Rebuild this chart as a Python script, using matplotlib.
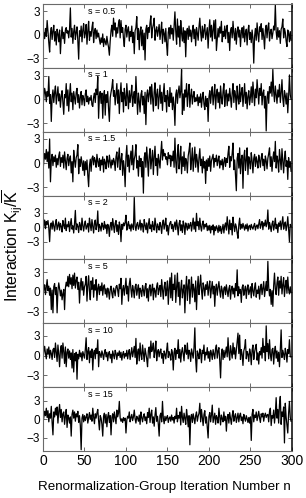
import numpy as np
import matplotlib
matplotlib.use("Agg")
import matplotlib.pyplot as plt

plt.rcParams['font.family'] = ['Liberation Sans', 'DejaVu Sans']
plt.rcParams['axes.unicode_minus'] = True
plt.rcParams['mathtext.fontset'] = 'custom'
plt.rcParams['mathtext.rm'] = 'Liberation Sans'
plt.rcParams['mathtext.it'] = 'Liberation Sans:italic'
plt.rcParams['mathtext.bf'] = 'Liberation Sans:bold'

s_labels = ["s = 0.5", "s = 1", "s = 1.5", "s = 2", "s = 5", "s = 10", "s = 15"]

k_s05 = [
-0.7, 0.3, -0.5, 0.8, -0.2, 1.8, 0.4, -1.0, -2.2, 0.2,
0.9, -0.6, 0.5, 1.2, -0.8, 0.4, -1.3, 0.7, 0.1, -0.9,
0.6, -2.4, -0.3, 1.0, -0.5, 0.3, -1.1, 0.6, 0.9, 0.2,
0.5, -0.4, 0.7, 3.4, -0.3, 0.8, -1.1, 0.4, 1.2, -0.6,
0.3, 1.0, -0.8, -3.1, 0.5, -0.2, 1.1, -0.9, 0.6, 1.4,
-0.4, 0.2, 1.3, -1.2, 0.5, 1.7, -0.7, 0.4, -0.2, 0.9,
1.6, -1.0, 0.3, 0.8, -0.5, 0.6, -0.3, 0.2, -0.6, -1.2,
-0.4, -1.0, 0.1, -1.5, -0.5, -0.9, -1.3, -0.2, -1.0, -1.6,
-2.6, -0.8, 0.5, 1.2, -0.2, 2.1, 0.6, 1.5, -0.3, 0.9,
0.2, 1.4, 1.9, -0.4, 1.8, 0.3, 0.9, -0.5, -1.5, 0.7,
1.2, -0.3, 0.6, 1.0, -0.8, 0.4, -0.2, 1.1, -1.0, 0.3,
-2.4, 0.5, 0.9, 2.3, -0.6, 0.8, -1.9, 0.4, 1.0, -1.4,
0.6, -1.9, 0.2, -3.2, 0.7, 1.2, -0.5, 0.9, 0.3, 1.5,
2.4, -0.4, 0.8, 1.3, 2.1, -0.7, 0.5, 1.0, -0.2, 0.6,
1.3, -0.6, 0.4, 1.6, -1.1, 0.7, 0.2, -0.9, 0.8, -1.3,
-2.6, 0.3, 0.9, -0.5, 1.2, 0.1, 0.8, -0.7, 1.0, 2.9,
0.4, -1.2, 2.0, -0.3, 1.1, -1.5, 1.8, 0.2, -0.8, 0.9,
-1.0, 0.5, -2.8, 0.3, 0.8, -0.6, 1.1, -0.2, 0.6, -0.9,
0.4, 1.2, -0.5, 0.7, -1.4, 0.9, 0.2, -0.7, 1.0, 2.1,
0.3, -0.8, 1.1, -0.4, 0.6, 1.3, -0.6, 0.2, 0.9, -1.7,
0.5, 1.9, -0.3, 1.2, -0.8, 0.6, 1.8, -0.5, 1.9, -2.0,
-0.6, 0.8, -0.3, 1.0, 0.2, 1.7, -0.9, 0.4, -0.2, 1.1,
-0.5, 0.7, 1.2, -1.0, 0.3, -2.0, 0.5, 0.9, -0.4, 1.7,
0.2, -0.7, 0.8, -1.2, 0.4, 1.0, -0.3, 0.6, -1.5, 0.3,
0.9, -0.4, 1.1, -0.9, 0.2, 0.7, -1.3, 0.5, 1.2, -0.6,
0.3, -1.0, 0.6, -0.5, -3.6, -0.2, 0.8, -0.7, 1.5, 0.1,
-0.9, 1.0, 0.4, 1.4, -0.6, 0.8, -0.2, -1.8, 0.6, 1.2,
-0.4, 0.9, 1.5, -0.8, 0.3, 0.7, -0.5, 0.2, 1.1, 0.6,
3.8, 0.4, -0.6, 0.9, -0.3, 0.5, -1.1, 0.7, 1.0, 2.0,
-0.4, 0.8, 0.3, -0.8, -1.5, 0.6, 0.2, -0.9, 0.4, -0.7,
]

k_s1 = [
-0.9, 0.2, 1.4, 0.8, -0.3, 1.0, 0.4, 2.9, -0.5, 0.6,
-2.8, 0.3, 1.2, -0.4, 0.9, 1.7, -0.6, 0.5, 1.6, -0.2,
0.7, -1.0, 0.4, 1.1, -0.5, -1.9, 0.6, 0.2, 2.0, -0.8,
1.2, -1.5, 0.5, 2.0, -0.3, 0.8, -1.3, 1.0, 0.2, -0.6,
0.9, 1.4, -0.4, 0.6, -1.1, 0.3, 1.0, -0.7, 0.5, 0.1,
-0.8, 0.7, 1.2, -0.3, 0.4, -0.6, 0.2, -0.1, 0.5, -0.7,
-0.9, 0.3, 0.8, -0.4, 1.3, 0.6, 2.9, -2.4, 0.4, 1.0,
-0.5, 0.8, -2.4, 0.3, 1.1, -2.0, 0.6, -0.4, 1.0, -1.2,
-2.8, 0.2, 0.9, 1.5, 2.5, 0.4, 1.1, -0.7, 0.6, 2.0,
-0.5, 1.2, -1.8, 0.7, 2.1, -0.3, 0.9, -1.6, 1.4, 0.2,
-0.8, 2.0, 0.5, -1.2, 1.1, -0.4, 0.6, 1.8, -0.9, 0.3,
1.0, -0.5, 2.9, 0.4, -1.9, 0.8, -0.2, -1.6, 0.6, 1.1,
-0.7, 0.4, -1.8, 0.9, -3.2, 0.5, 1.2, -0.3, 0.8, 1.6,
-0.6, 1.9, 0.3, -1.5, 1.0, 2.1, -0.8, 0.6, 1.3, -1.2,
0.4, 1.8, -0.5, 0.9, -1.4, 0.7, 2.0, -0.3, 0.5, -1.6,
1.1, 0.2, -0.9, 1.5, -0.4, 0.8, -1.3, 0.3, -0.8, -3.3,
0.6, 1.2, -0.5, 0.9, 1.7, 0.2, 1.0, 3.8, -1.9, 0.7,
-1.4, 1.2, 0.3, 2.0, -0.9, 0.8, 1.9, -1.0, 0.5, 1.3,
-0.6, 0.4, 1.0, -0.3, 0.2, -0.2, 0.6, -0.8, 0.3, -0.4,
0.7, -1.0, 0.2, 0.9, -0.6, -1.3, 0.4, -0.9, 0.1, -2.8,
0.3, 1.1, -0.5, 0.8, 1.6, -0.7, 0.5, 1.9, -1.2, 0.6,
1.3, -0.4, 0.9, -1.1, 1.7, 0.2, -0.6, 1.0, 2.0, -0.9,
0.5, 1.2, -0.8, 0.7, -0.2, 1.4, 0.3, -1.0, 0.8, 2.0,
-0.4, 1.1, 0.5, -1.3, 1.7, 0.2, -0.6, 1.9, -0.3, 0.8,
1.5, -0.9, 0.6, 2.0, -0.5, 0.9, -1.2, 0.4, 1.1, -0.7,
0.3, 1.6, -0.4, 2.2, 0.6, -0.8, 1.3, 0.2, 2.5, 0.9,
-0.6, 1.4, 0.5, 2.0, -0.7, 0.8, 1.2, -1.1, 0.4, -4.0,
0.2, 1.0, -0.5, 1.6, 0.8, 2.2, 0.4, 3.8, 1.0, -0.3,
1.7, 0.6, -0.5, 1.2, 0.3, 1.9, -0.4, 0.8, 2.5, 0.1,
-0.9, 1.1, 0.5, -0.6, 0.8, -1.7, 0.3, 3.1, 0.6, 0.0,
]

k_s15 = [
-1.0, 0.3, 1.2, 0.5, 1.7, 0.2, 1.4, -0.6, 3.0, -2.3,
0.4, 1.1, -0.3, 0.8, 0.2, 1.0, -0.5, 0.6, -0.2, 0.9,
1.4, -0.4, 0.7, 0.1, 1.0, -0.6, 1.4, 0.3, -0.8, 0.6,
1.1, -0.3, 0.5, 0.9, -1.2, 0.2, -2.3, 1.6, 0.4, -0.5,
0.7, 1.0, 2.3, -1.3, 0.5, -0.4, 0.8, 0.1, -0.9, 0.3,
-1.5, 0.2, -0.8, 0.4, -1.5, -2.9, -0.3, 0.5, -1.0, 0.6,
0.9, -0.2, 0.7, 0.3, -0.5, 1.1, 0.2, -0.4, 0.6, -0.9,
0.4, -0.2, 0.8, -1.1, 0.5, 0.1, -0.7, 0.9, 0.3, -0.5,
1.0, 0.2, -0.6, 0.4, -0.2, 0.6, 0.2, -0.9, 0.8, 1.4,
-0.5, 0.7, 1.9, -0.8, 0.4, 1.2, -1.5, 0.3, -0.6, -2.9,
0.8, 2.2, -0.4, 1.0, -1.1, 0.6, 1.5, -0.2, 2.2, -0.8,
0.5, 1.0, 2.3, -0.6, 0.3, -1.6, 0.9, -0.4, 0.6, -1.7,
0.2, -3.7, 0.7, 1.3, -0.5, 2.0, 0.4, -1.6, 0.9, 1.8,
-0.7, 0.5, 1.6, -1.4, 0.8, 2.1, -0.3, 0.6, -1.5, 1.1,
0.3, -0.6, 1.2, 2.7, 0.4, 1.7, 0.9, 1.2, 0.5, 0.8,
-0.2, 1.3, 0.6, 1.0, -0.4, 0.9, 0.3, 1.5, -0.5, 3.1,
0.2, -1.2, 1.1, 2.3, -0.7, 0.5, 2.1, -1.3, 0.8, -0.4,
1.4, -0.9, 0.6, 0.2, -1.2, 0.9, 1.6, 2.5, -0.8, 0.4,
1.9, -1.0, 0.6, 2.0, -0.5, 1.1, 0.3, -1.1, 0.7, 1.8,
-0.3, 0.5, -1.2, 0.8, -0.6, 0.2, -2.5, 0.4, -0.9, 0.6,
-0.4, 0.9, -1.0, 0.3, 0.7, 1.1, -0.5, 0.6, 0.2, 1.0,
-0.3, 0.4, 0.9, -0.6, 0.3, -0.2, 0.5, -0.8, 0.2, 0.7,
-0.4, 0.6, 0.1, 1.2, 2.1, -0.5, 0.8, 0.3, 1.2, 2.5,
-0.8, 0.4, -1.5, -3.4, 0.6, 1.2, -0.6, 1.9, -1.3, 0.5,
1.0, -3.1, 0.7, 1.6, -0.9, 0.4, 1.9, -1.4, 0.8, 0.2,
-0.7, 1.3, 0.3, -1.2, 0.6, 1.1, -0.4, 0.8, 0.2, -0.6,
1.0, 0.4, -0.5, 0.7, 1.2, -0.3, 0.5, -0.9, 0.9, 0.3,
-0.7, 0.6, 1.2, 1.9, -0.4, 0.8, -1.0, 0.5, 1.4, 0.2,
2.7, -0.6, 0.9, 0.3, -1.1, 1.7, 0.5, -0.8, 1.8, 0.2,
-1.2, 0.6, 1.5, -0.4, 0.3, -2.0, 0.7, -0.5, 0.2, -1.0,
]

k_s2 = [
-0.9, 0.4, 1.5, -0.3, 1.2, 0.6, 1.4, -0.2, -3.0, 0.5,
0.9, -0.4, 1.3, 0.2, -0.8, 0.7, 1.6, -0.5, 0.3, 1.1,
-0.6, 0.8, 0.2, -1.0, 1.4, 0.4, -0.3, 1.9, -0.7, 0.5,
0.1, 1.2, -0.9, 0.6, 1.8, -0.4, 0.3, -1.2, 0.8, 3.5,
-0.5, 0.7, 0.2, -1.1, 1.0, 0.4, -0.6, 1.9, 0.3, -0.8,
0.6, 1.3, -0.4, 0.2, 0.8, -1.0, 1.9, 0.5, -0.7, 1.6,
0.2, -1.2, 0.9, 1.5, -0.5, 0.4, 3.4, -0.9, 0.6, 0.1,
-0.8, 0.9, 0.3, -0.5, 1.2, -0.2, 0.5, -1.3, 0.6, 0.2,
-1.9, 0.4, 1.0, -0.6, 1.8, 0.3, -1.1, 0.8, 1.4, -0.9,
0.5, -1.5, 1.1, 0.2, -3.0, 0.6, -0.4, 0.9, 0.3, 1.0,
2.5, -0.6, 0.4, 1.2, -0.3, 0.5, -0.8, 0.7, 0.1, -0.5,
6.2, 0.3, -0.7, 0.6, 1.0, -0.4, 0.2, 1.5, -0.6, 0.8,
0.3, -1.0, 1.6, 0.4, -0.5, 0.9, -1.2, 0.6, 1.8, -0.3,
0.5, -0.9, 1.2, 0.2, -0.6, 1.9, 0.4, -1.1, 0.7, 0.1,
-0.6, 1.0, 0.3, -1.3, 0.8, 1.5, -0.4, 0.6, 1.9, -0.8,
0.4, -1.6, 0.2, 0.9, 1.2, -0.3, 0.6, -0.9, 0.3, 1.1,
-0.5, 1.5, 0.2, -1.6, 0.8, 1.4, -0.7, 0.5, -1.1, 1.3,
0.4, -1.5, 0.9, 0.2, -0.6, 0.8, -0.3, 0.5, 1.0, -0.8,
0.6, 1.9, -0.4, 1.1, -0.9, 2.9, 0.3, 1.2, -0.5, 1.9,
0.2, -0.8, 0.7, 1.3, -0.4, 0.6, 0.1, 0.8, -0.7, 0.3,
-0.6, 0.4, -1.2, 0.2, -0.5, 0.5, -1.6, 0.1, -0.7, 0.3,
-0.2, -1.1, 0.4, -0.8, 0.2, -1.3, -0.4, 0.6, -1.2, 0.3,
0.9, -0.6, 2.2, 0.3, -1.4, 1.5, -0.5, 0.8, -1.6, 2.1,
0.4, -0.9, 0.7, 0.1, -1.2, -2.3, 0.5, 1.9, -0.4, 0.6,
-0.2, 0.8, 0.1, -0.6, 0.5, -0.3, 0.7, -0.8, 0.2, 0.4,
-0.5, 0.6, 0.0, -0.4, 0.3, 0.8, -0.6, 0.2, 0.5, -0.3,
0.7, 1.6, -0.2, 0.6, 1.2, -0.5, 0.9, 0.3, 1.5, 0.1,
0.8, 3.6, -0.4, 1.0, 0.2, -0.9, 0.7, 1.3, -0.6, 0.4,
1.9, -0.3, 0.6, -1.1, 0.9, 0.2, 1.3, -0.5, 0.8, 2.2,
-0.4, 0.5, 1.1, -0.7, 0.3, 2.2, -0.5, -3.0, 0.6, 0.2,
]

k_s5 = [
-0.9, 0.5, 1.1, -0.4, 0.8, 1.9, 0.2, 0.9, -0.5, 0.6,
-2.7, 0.3, -3.2, 0.8, 1.3, -0.4, 0.7, -3.2, 0.2, 1.4,
0.5, -0.6, 0.3, -1.2, -0.3, 0.4, -2.7, 0.6, 1.5, 0.9,
2.4, 0.8, 2.7, 1.2, 2.2, 0.5, 2.6, 1.0, 2.9, 0.6,
1.8, 2.3, 0.4, 1.5, -1.7, 0.9, 2.1, 0.3, 1.6, -0.5,
0.8, 1.2, 2.4, -1.4, 1.0, 2.5, 0.2, -1.2, 1.7, 0.4,
2.2, -0.8, 1.1, 0.3, 1.9, -1.3, 0.6, 1.2, -0.4, 0.9,
0.2, 1.4, -0.5, 0.8, 1.1, -0.3, 0.5, -0.8, 0.6, 0.1,
-1.1, 0.4, 0.9, -0.2, -0.9, 0.6, 0.2, -0.6, 0.8, 1.0,
0.3, -0.7, 1.2, 0.5, 2.1, -1.9, 0.4, 1.0, -0.5, 0.7,
2.1, -0.3, 0.9, -1.4, 1.2, 2.1, 0.4, -0.8, 1.0, 0.3,
-0.9, 0.8, 1.2, -0.5, 0.4, 1.1, -1.0, 0.6, 0.2, -0.7,
1.0, 0.3, -0.6, 0.8, 1.3, -0.9, 0.5, -1.4, 0.7, 1.1,
-0.6, 0.4, 1.2, -1.2, 0.6, 0.2, -0.8, 0.9, 1.4, -0.4,
0.5, 1.0, -0.7, 1.9, 0.3, -1.1, 0.8, 1.5, -0.6, 0.4,
1.7, -1.9, 0.6, 2.2, -0.9, 2.9, -1.3, 1.2, 0.4, 2.6,
-1.6, 0.8, 2.9, -0.7, 1.5, -2.0, 0.5, 1.8, -0.9, 0.3,
1.1, -3.2, 0.6, 2.4, -1.3, 0.9, 1.9, -1.8, 0.4, 2.3,
-0.8, 1.2, 0.5, -1.5, 1.7, -2.7, 0.6, 2.4, -0.4, 0.9,
2.6, 0.3, -1.1, 1.4, 0.7, -0.6, 1.1, 0.4, 1.6, -0.5,
0.8, 1.7, -0.9, 0.5, 1.6, -0.3, 0.9, -2.2, 0.4, 1.2,
-0.5, 0.7, 1.6, 0.2, -0.8, 0.9, 0.3, -1.0, 0.6, 0.8,
-0.4, 1.1, 0.2, -0.7, 0.5, 1.0, -1.1, 0.4, 0.9, -0.3,
0.6, -0.8, 1.3, 0.2, 3.4, -0.6, 0.8, -0.2, 0.4, -1.6,
0.7, 1.1, -0.5, 0.3, 0.9, -1.0, 0.5, 1.1, -0.4, 0.2,
0.8, -0.9, 1.3, 0.2, -0.6, 0.7, 1.4, -0.8, 0.3, -0.2,
0.9, -1.1, 0.5, 1.2, -0.4, 0.6, 1.6, -0.7, 0.4, 1.6,
0.2, 4.7, 0.8, -0.6, 0.4, -1.9, 0.2, -2.2, 1.0, 2.9,
0.5, -0.4, 1.4, 2.3, -0.5, 1.7, 0.6, 2.4, -0.3, 1.1,
2.2, -0.7, 0.9, 1.8, -0.2, 2.3, 0.4, -0.3, 0.8, -0.1,
]

k_s10 = [
-0.7, 0.6, 1.4, 0.3, -0.5, 1.0, 0.2, 1.3, -0.4, 0.8,
0.3, -0.6, 0.9, 1.1, -0.3, 1.9, 0.5, -0.9, 1.6, 0.2,
-1.7, 0.8, 1.5, -0.4, 1.9, 0.6, -1.2, 1.3, -1.7, 0.5,
1.0, -0.4, 0.7, -0.6, 0.4, -1.9, 0.9, -2.5, 0.3, -0.8,
0.5, -3.6, 0.2, -0.5, 0.8, -0.2, 0.4, -0.8, 0.6, 0.1,
-0.4, 0.9, 2.7, -0.6, 0.5, 1.2, -1.1, 0.7, -0.3, 1.0,
-2.2, 0.4, 0.8, -0.5, 1.1, 0.3, 2.4, -1.7, 0.6, 0.2,
-0.3, 0.7, 0.2, -0.6, 0.4, 0.9, -0.2, 0.5, -0.8, 0.3,
0.6, -0.4, 0.2, -1.1, 0.7, 0.1, -0.5, 0.8, 0.3, -0.6,
0.4, 0.0, 0.7, -0.3, 0.5, -0.7, 0.2, 0.6, -0.4, 0.3,
-0.1, 0.8, -0.5, 0.4, 0.9, -0.6, 0.3, 1.2, -0.2, 0.6,
1.4, -0.3, 2.6, -1.3, 0.5, 1.0, -0.8, 1.9, 0.2, -0.6,
1.6, 0.4, -0.9, 1.1, 0.3, -0.5, -1.7, 0.8, 1.3, -0.4,
2.2, 0.6, 1.1, 1.9, -0.3, 0.7, 2.2, -0.8, 0.5, 0.9,
-0.2, 0.6, 1.0, -0.4, 0.3, -1.2, 0.7, 0.2, -0.5, 0.8,
1.9, -0.3, 0.6, 0.1, -0.7, 0.9, 0.4, -2.2, 0.5, 1.1,
-0.6, 0.8, 0.3, 2.4, -0.4, 0.9, -1.0, 0.5, 1.2, 0.2,
-0.8, 1.6, 0.6, 0.2, 1.9, -0.5, 0.8, 0.4, -0.9, 1.0,
0.3, -0.4, 1.2, 4.2, -0.6, -2.5, 0.7, 0.2, -0.5, 1.0,
0.4, -1.1, 0.8, 0.3, 1.6, -0.7, 0.5, 0.1, 1.2, -0.4,
0.6, -0.9, 0.8, 0.3, -0.6, 0.9, 0.2, -0.5, 1.1, 1.6,
-0.4, 0.7, 1.2, -0.8, -3.4, 0.3, 1.0, -0.6, 0.8, -0.3,
0.5, 1.3, -0.2, 2.7, 0.4, -0.7, 1.5, 0.6, -0.4, 1.9,
0.2, 1.2, -0.5, 0.8, 2.0, 3.4, 0.3, 3.1, -0.6, 0.9,
0.2, -1.5, 0.7, 1.2, 2.4, -0.5, 0.6, 0.2, -0.9, 1.0,
0.4, -1.4, 0.8, 1.6, -0.6, 0.5, 1.2, 1.7, -0.7, 0.4,
-1.3, 0.6, 0.1, 1.2, -0.4, 2.6, 0.5, 1.4, -0.8, 4.5,
0.6, 1.8, -0.5, 2.4, 0.2, -0.8, 0.9, 1.1, -1.3, 0.6,
1.4, -0.4, 0.7, -0.9, 0.5, -1.7, 0.9, 3.9, -0.3, 0.8,
0.2, -0.6, 1.1, 0.4, -1.0, 0.9, 0.3, 2.4, -0.2, -0.2,
]

k_s15b = [
-0.6, 0.4, 1.3, 0.6, 1.8, 0.3, 1.4, -0.4, 0.9, 0.2,
2.1, -0.5, -2.5, 1.2, 0.4, 1.8, 0.7, 2.0, -0.6, 1.3,
2.4, 0.3, 1.6, -0.4, 0.9, 1.2, -0.8, 0.5, 1.6, -1.3,
0.7, 0.2, -0.6, 0.4, -2.7, 0.8, 1.5, 0.2, 1.2, -0.3,
0.9, 0.4, 1.3, -0.5, 0.6, -1.0, -4.9, 0.2, 0.8, -0.4,
0.6, -0.2, 0.4, 0.9, -0.6, 0.3, 1.1, 0.0, 0.7, -0.3,
1.8, 0.4, -0.7, 0.9, 0.2, 1.0, 1.6, -0.2, -1.7, 0.6,
0.2, -0.8, -2.7, 0.5, 1.0, -0.6, 0.8, -1.2, 0.4, 1.1,
-0.5, 0.6, -2.5, 0.3, 0.9, -0.4, 1.2, 0.2, -0.7, 1.5,
0.4, 1.0, 2.9, 0.2, -0.3, 0.1, -0.5, 0.3, -0.2, 0.2,
-2.2, -0.1, 0.5, 0.2, 1.2, -0.4, 0.3, 0.8, -0.2, 0.4,
1.5, 0.1, -0.6, 0.5, 0.2, -0.3, 0.7, -0.8, 1.2, 0.3,
-0.4, 0.5, 0.9, -0.2, 0.4, -0.7, 1.1, 0.3, 1.8, -0.5,
0.8, 1.5, -0.6, 0.4, -1.1, 0.7, 1.9, -0.3, 0.5, -0.8,
-2.7, 0.6, 1.0, -0.4, 2.9, 0.2, -0.7, 0.5, -0.2, 0.3,
0.6, -0.5, 0.2, 0.4, -0.3, 0.7, -0.1, 0.3, -0.6, 0.5,
0.1, 1.8, -0.4, 0.6, 0.2, 1.2, -0.9, 2.1, 0.3, -0.5,
1.0, 0.2, -0.8, 1.6, 0.4, -1.2, 0.6, -4.1, 0.3, 0.8,
-0.5, 0.9, 0.2, -0.7, 0.6, 1.2, -0.3, 0.5, 1.0, 2.6,
-0.4, 1.6, 0.3, -1.0, 0.8, 1.4, -0.6, 0.4, -1.2, -3.0,
0.5, 1.1, -0.4, 0.7, 2.3, -0.5, 0.3, 1.0, -0.8, 0.6,
0.2, -0.6, 1.8, 0.4, -0.9, 0.7, 0.1, -0.4, 1.2, -0.2,
0.5, -1.9, 0.3, 0.8, -0.6, 1.1, 0.2, -0.8, 0.6, 1.4,
-0.3, 0.5, 0.9, -0.5, 0.3, 1.0, -0.4, 0.6, 1.0, -0.2,
0.4, -0.7, 0.8, 0.2, -0.3, 0.6, 0.1, -0.5, 0.3, -0.6,
0.4, -3.4, 0.8, 1.6, -0.4, 0.7, 0.3, 1.2, -0.2, 0.6,
1.3, 0.2, -0.5, 0.9, 0.4, 1.0, -0.3, 0.6, 1.0, 0.3,
0.7, 0.8, -0.4, 1.3, 1.8, -1.0, 0.6, 0.2, 1.5, -0.6,
0.9, 3.5, 0.2, 1.6, -0.6, 2.4, 3.7, -0.8, 1.2, 0.5,
2.0, -3.8, 2.6, 0.4, -0.9, -2.2, 1.0, 2.9, 0.3, -0.3,
]

series = [k_s05, k_s1, k_s15, k_s2, k_s5, k_s10, k_s15b]
y_limits = [(-4.2, 3.9), (-4.1, 4.0), (-4.0, 3.9), (-6.7, 6.6),
            (-4.8, 5.0), (-4.8, 4.9), (-5.1, 5.2)]
y_ticks = [-3, 0, 3]
x_ticks = [0, 50, 100, 150, 200, 250, 300]

fig = plt.figure(figsize=(3.06, 4.98), dpi=100)
axes = fig.subplots(7, 1, sharex=True)
fig.subplots_adjust(left=0.1405, right=0.954, top=0.992, bottom=0.0944, hspace=0)

spine_grey = '#6a6a6a'
for ax, vals, lab, yl in zip(axes, series, s_labels, y_limits):
    n = np.arange(len(vals))
    ax.plot(n, vals, color='black', lw=0.9)
    ax.set_xlim(0, 300)
    ax.set_ylim(*yl)
    ax.set_yticks(y_ticks)
    ax.set_yticklabels(['\u22123', '0', '3'])
    ax.set_xticks(x_ticks)
    ax.tick_params(axis='both', direction='in', length=3, width=0.7,
                   color=spine_grey, top=True, right=True, pad=2)
    ax.tick_params(axis='y', labelsize=8.5)
    ax.tick_params(axis='x', labelsize=10)
    for side in ['left', 'top', 'bottom']:
        ax.spines[side].set_color(spine_grey)
        ax.spines[side].set_linewidth(0.8)
    ax.spines['right'].set_color('black')
    ax.spines['right'].set_linewidth(1.1)
    ax.text(0.18, 0.96, lab, transform=ax.transAxes, ha='left', va='top',
            fontsize=6.5)

axes[-1].set_xticklabels([str(v) for v in x_ticks])
fig.text(164 / 306, 1 - 487 / 498, 'Renormalization-Group Iteration Number n',
         ha='center', va='center', fontsize=9.6)

fig.text(0.042, 1 - 246 / 498, r'Interaction K$_{\mathrm{ij}}$/$\overline{\mathrm{K}}$',
         rotation=90, ha='center', va='center', fontsize=11.5)

fig.savefig('out.png', dpi=100)
